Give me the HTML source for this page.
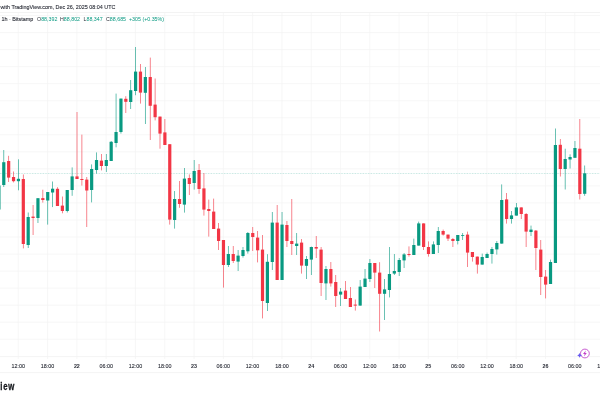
<!DOCTYPE html>
<html><head><meta charset="utf-8"><title>Chart</title>
<style>
html,body{margin:0;padding:0;background:#fff;}
body{width:600px;height:400px;overflow:hidden;position:relative;font-family:"Liberation Sans",sans-serif;}
svg{position:absolute;left:0;top:0;display:block;will-change:transform}
text{font-family:"Liberation Sans",sans-serif;}
</style></head><body>
<svg width="600" height="400" viewBox="0 0 600 400">
<rect width="600" height="400" fill="#ffffff"/>

<g stroke="#f3f3f3" stroke-width="0.7" fill="none">
<line x1="0" y1="15.50" x2="600" y2="15.50"/>
<line x1="0" y1="32.54" x2="600" y2="32.54"/>
<line x1="0" y1="49.58" x2="600" y2="49.58"/>
<line x1="0" y1="66.62" x2="600" y2="66.62"/>
<line x1="0" y1="83.66" x2="600" y2="83.66"/>
<line x1="0" y1="100.70" x2="600" y2="100.70"/>
<line x1="0" y1="117.74" x2="600" y2="117.74"/>
<line x1="0" y1="134.78" x2="600" y2="134.78"/>
<line x1="0" y1="151.82" x2="600" y2="151.82"/>
<line x1="0" y1="168.86" x2="600" y2="168.86"/>
<line x1="0" y1="185.90" x2="600" y2="185.90"/>
<line x1="0" y1="202.94" x2="600" y2="202.94"/>
<line x1="0" y1="219.98" x2="600" y2="219.98"/>
<line x1="0" y1="237.02" x2="600" y2="237.02"/>
<line x1="0" y1="254.06" x2="600" y2="254.06"/>
<line x1="0" y1="271.10" x2="600" y2="271.10"/>
<line x1="0" y1="288.14" x2="600" y2="288.14"/>
<line x1="0" y1="305.18" x2="600" y2="305.18"/>
<line x1="0" y1="322.22" x2="600" y2="322.22"/>
<line x1="0" y1="339.26" x2="600" y2="339.26"/>
<line x1="18.30" y1="12.5" x2="18.30" y2="359"/>
<line x1="47.59" y1="12.5" x2="47.59" y2="359"/>
<line x1="76.88" y1="12.5" x2="76.88" y2="359"/>
<line x1="106.17" y1="12.5" x2="106.17" y2="359"/>
<line x1="135.46" y1="12.5" x2="135.46" y2="359"/>
<line x1="164.75" y1="12.5" x2="164.75" y2="359"/>
<line x1="194.04" y1="12.5" x2="194.04" y2="359"/>
<line x1="223.33" y1="12.5" x2="223.33" y2="359"/>
<line x1="252.62" y1="12.5" x2="252.62" y2="359"/>
<line x1="281.91" y1="12.5" x2="281.91" y2="359"/>
<line x1="311.20" y1="12.5" x2="311.20" y2="359"/>
<line x1="340.49" y1="12.5" x2="340.49" y2="359"/>
<line x1="369.78" y1="12.5" x2="369.78" y2="359"/>
<line x1="399.07" y1="12.5" x2="399.07" y2="359"/>
<line x1="428.36" y1="12.5" x2="428.36" y2="359"/>
<line x1="457.65" y1="12.5" x2="457.65" y2="359"/>
<line x1="486.94" y1="12.5" x2="486.94" y2="359"/>
<line x1="516.23" y1="12.5" x2="516.23" y2="359"/>
<line x1="545.52" y1="12.5" x2="545.52" y2="359"/>
<line x1="574.81" y1="12.5" x2="574.81" y2="359"/>
<line x1="604.10" y1="12.5" x2="604.10" y2="359"/>
</g>
<g stroke="#f0f0f0" stroke-width="0.8">
<line x1="0" y1="12.5" x2="600" y2="12.5"/>
<line x1="0" y1="356.6" x2="600" y2="356.6"/>
<line x1="0" y1="372.6" x2="600" y2="372.6"/>
</g>
<line x1="0" y1="173.5" x2="600" y2="173.5" stroke="#089981" stroke-width="0.5" stroke-dasharray="0.8 0.8" opacity="0.5"/>
<g>
<rect x="-1.48" y="185.50" width="0.75" height="24.00" fill="#089981" opacity="0.8"/>
<rect x="-2.70" y="185.50" width="3.20" height="24.00" fill="#089981"/>
<rect x="3.41" y="150.00" width="0.75" height="37.00" fill="#089981" opacity="0.8"/>
<rect x="2.18" y="162.20" width="3.20" height="22.80" fill="#089981"/>
<rect x="8.29" y="155.80" width="0.75" height="26.20" fill="#f23645" opacity="0.8"/>
<rect x="7.06" y="161.00" width="3.20" height="16.60" fill="#f23645"/>
<rect x="13.17" y="171.50" width="0.75" height="10.90" fill="#f23645" opacity="0.8"/>
<rect x="11.95" y="177.00" width="3.20" height="4.20" fill="#f23645"/>
<rect x="18.05" y="159.30" width="0.75" height="31.00" fill="#089981" opacity="0.8"/>
<rect x="16.83" y="178.80" width="3.20" height="2.40" fill="#089981"/>
<rect x="22.93" y="174.50" width="0.75" height="73.90" fill="#f23645" opacity="0.8"/>
<rect x="21.71" y="179.00" width="3.20" height="65.00" fill="#f23645"/>
<rect x="27.82" y="212.50" width="0.75" height="35.50" fill="#089981" opacity="0.8"/>
<rect x="26.59" y="217.00" width="3.20" height="28.00" fill="#089981"/>
<rect x="32.70" y="205.00" width="0.75" height="30.00" fill="#f23645" opacity="0.8"/>
<rect x="31.47" y="216.60" width="3.20" height="1.40" fill="#f23645"/>
<rect x="37.58" y="198.20" width="0.75" height="24.80" fill="#089981" opacity="0.8"/>
<rect x="36.35" y="198.20" width="3.20" height="19.80" fill="#089981"/>
<rect x="42.46" y="189.70" width="0.75" height="12.90" fill="#f23645" opacity="0.8"/>
<rect x="41.24" y="198.10" width="3.20" height="1.90" fill="#f23645"/>
<rect x="47.34" y="192.00" width="0.75" height="32.60" fill="#089981" opacity="0.8"/>
<rect x="46.12" y="192.00" width="3.20" height="8.50" fill="#089981"/>
<rect x="52.22" y="181.50" width="0.75" height="25.60" fill="#089981" opacity="0.8"/>
<rect x="51.00" y="188.70" width="3.20" height="3.80" fill="#089981"/>
<rect x="57.11" y="187.20" width="0.75" height="18.80" fill="#f23645" opacity="0.8"/>
<rect x="55.88" y="188.80" width="3.20" height="17.20" fill="#f23645"/>
<rect x="61.99" y="196.50" width="0.75" height="16.80" fill="#f23645" opacity="0.8"/>
<rect x="60.76" y="205.60" width="3.20" height="5.40" fill="#f23645"/>
<rect x="66.87" y="190.00" width="0.75" height="22.50" fill="#089981" opacity="0.8"/>
<rect x="65.64" y="190.00" width="3.20" height="21.00" fill="#089981"/>
<rect x="71.75" y="167.40" width="0.75" height="28.40" fill="#089981" opacity="0.8"/>
<rect x="70.53" y="176.40" width="3.20" height="13.60" fill="#089981"/>
<rect x="76.63" y="112.00" width="0.75" height="67.00" fill="#f23645" opacity="0.8"/>
<rect x="75.41" y="176.40" width="3.20" height="2.60" fill="#f23645"/>
<rect x="81.51" y="134.60" width="0.75" height="51.00" fill="#f23645" opacity="0.8"/>
<rect x="80.29" y="179.00" width="3.20" height="1.00" fill="#f23645"/>
<rect x="86.40" y="177.00" width="0.75" height="50.00" fill="#f23645" opacity="0.8"/>
<rect x="85.17" y="179.60" width="3.20" height="10.90" fill="#f23645"/>
<rect x="91.28" y="164.40" width="0.75" height="38.00" fill="#089981" opacity="0.8"/>
<rect x="90.05" y="169.00" width="3.20" height="21.00" fill="#089981"/>
<rect x="96.16" y="152.40" width="0.75" height="21.20" fill="#089981" opacity="0.8"/>
<rect x="94.93" y="160.00" width="3.20" height="10.00" fill="#089981"/>
<rect x="101.04" y="154.00" width="0.75" height="16.40" fill="#f23645" opacity="0.8"/>
<rect x="99.82" y="160.60" width="3.20" height="5.40" fill="#f23645"/>
<rect x="105.92" y="154.00" width="0.75" height="18.00" fill="#089981" opacity="0.8"/>
<rect x="104.70" y="160.00" width="3.20" height="6.00" fill="#089981"/>
<rect x="110.80" y="141.00" width="0.75" height="20.00" fill="#089981" opacity="0.8"/>
<rect x="109.58" y="141.80" width="3.20" height="19.20" fill="#089981"/>
<rect x="115.69" y="93.60" width="0.75" height="53.70" fill="#089981" opacity="0.8"/>
<rect x="114.46" y="132.00" width="3.20" height="11.00" fill="#089981"/>
<rect x="120.57" y="98.60" width="0.75" height="35.00" fill="#089981" opacity="0.8"/>
<rect x="119.34" y="98.60" width="3.20" height="33.40" fill="#089981"/>
<rect x="125.45" y="96.20" width="0.75" height="16.80" fill="#f23645" opacity="0.8"/>
<rect x="124.22" y="98.80" width="3.20" height="3.00" fill="#f23645"/>
<rect x="130.33" y="80.00" width="0.75" height="29.00" fill="#089981" opacity="0.8"/>
<rect x="129.11" y="90.20" width="3.20" height="11.80" fill="#089981"/>
<rect x="135.21" y="47.00" width="0.75" height="48.20" fill="#089981" opacity="0.8"/>
<rect x="133.99" y="71.60" width="3.20" height="19.40" fill="#089981"/>
<rect x="140.09" y="64.00" width="0.75" height="39.60" fill="#f23645" opacity="0.8"/>
<rect x="138.87" y="71.60" width="3.20" height="21.00" fill="#f23645"/>
<rect x="144.98" y="67.00" width="0.75" height="57.00" fill="#089981" opacity="0.8"/>
<rect x="143.75" y="77.00" width="3.20" height="15.80" fill="#089981"/>
<rect x="149.86" y="57.60" width="0.75" height="82.40" fill="#f23645" opacity="0.8"/>
<rect x="148.63" y="77.00" width="3.20" height="28.80" fill="#f23645"/>
<rect x="154.74" y="78.50" width="0.75" height="41.90" fill="#f23645" opacity="0.8"/>
<rect x="153.51" y="104.60" width="3.20" height="12.60" fill="#f23645"/>
<rect x="159.62" y="116.60" width="0.75" height="32.10" fill="#f23645" opacity="0.8"/>
<rect x="158.40" y="116.60" width="3.20" height="17.00" fill="#f23645"/>
<rect x="164.50" y="119.00" width="0.75" height="26.00" fill="#f23645" opacity="0.8"/>
<rect x="163.28" y="132.40" width="3.20" height="12.60" fill="#f23645"/>
<rect x="169.38" y="144.20" width="0.75" height="80.40" fill="#f23645" opacity="0.8"/>
<rect x="168.16" y="144.20" width="3.20" height="75.40" fill="#f23645"/>
<rect x="174.27" y="191.00" width="0.75" height="37.60" fill="#089981" opacity="0.8"/>
<rect x="173.04" y="199.00" width="3.20" height="21.00" fill="#089981"/>
<rect x="179.15" y="181.00" width="0.75" height="26.80" fill="#f23645" opacity="0.8"/>
<rect x="177.92" y="199.00" width="3.20" height="5.00" fill="#f23645"/>
<rect x="184.03" y="168.00" width="0.75" height="44.60" fill="#089981" opacity="0.8"/>
<rect x="182.80" y="178.60" width="3.20" height="26.00" fill="#089981"/>
<rect x="188.91" y="174.40" width="0.75" height="20.60" fill="#f23645" opacity="0.8"/>
<rect x="187.69" y="178.00" width="3.20" height="6.00" fill="#f23645"/>
<rect x="193.79" y="160.00" width="0.75" height="29.60" fill="#089981" opacity="0.8"/>
<rect x="192.57" y="171.00" width="3.20" height="12.00" fill="#089981"/>
<rect x="198.67" y="164.00" width="0.75" height="29.80" fill="#f23645" opacity="0.8"/>
<rect x="197.45" y="170.00" width="3.20" height="19.00" fill="#f23645"/>
<rect x="203.56" y="173.00" width="0.75" height="42.60" fill="#f23645" opacity="0.8"/>
<rect x="202.33" y="188.40" width="3.20" height="21.20" fill="#f23645"/>
<rect x="208.44" y="199.60" width="0.75" height="37.00" fill="#f23645" opacity="0.8"/>
<rect x="207.21" y="209.00" width="3.20" height="2.00" fill="#f23645"/>
<rect x="213.32" y="198.60" width="0.75" height="30.40" fill="#f23645" opacity="0.8"/>
<rect x="212.09" y="211.60" width="3.20" height="17.40" fill="#f23645"/>
<rect x="218.20" y="223.00" width="0.75" height="27.00" fill="#f23645" opacity="0.8"/>
<rect x="216.98" y="228.60" width="3.20" height="12.40" fill="#f23645"/>
<rect x="223.08" y="240.00" width="0.75" height="47.60" fill="#f23645" opacity="0.8"/>
<rect x="221.86" y="240.00" width="3.20" height="25.00" fill="#f23645"/>
<rect x="227.96" y="246.00" width="0.75" height="21.00" fill="#089981" opacity="0.8"/>
<rect x="226.74" y="254.00" width="3.20" height="11.00" fill="#089981"/>
<rect x="232.85" y="246.00" width="0.75" height="17.00" fill="#f23645" opacity="0.8"/>
<rect x="231.62" y="254.00" width="3.20" height="7.00" fill="#f23645"/>
<rect x="237.73" y="250.00" width="0.75" height="21.00" fill="#089981" opacity="0.8"/>
<rect x="236.50" y="255.60" width="3.20" height="6.00" fill="#089981"/>
<rect x="242.61" y="247.00" width="0.75" height="10.60" fill="#089981" opacity="0.8"/>
<rect x="241.39" y="250.00" width="3.20" height="6.00" fill="#089981"/>
<rect x="247.49" y="232.00" width="0.75" height="21.60" fill="#089981" opacity="0.8"/>
<rect x="246.27" y="233.00" width="3.20" height="18.30" fill="#089981"/>
<rect x="252.37" y="227.00" width="0.75" height="24.00" fill="#f23645" opacity="0.8"/>
<rect x="251.15" y="233.00" width="3.20" height="4.00" fill="#f23645"/>
<rect x="257.26" y="231.00" width="0.75" height="31.40" fill="#f23645" opacity="0.8"/>
<rect x="256.03" y="237.60" width="3.20" height="12.70" fill="#f23645"/>
<rect x="262.14" y="235.00" width="0.75" height="83.40" fill="#f23645" opacity="0.8"/>
<rect x="260.91" y="249.60" width="3.20" height="51.40" fill="#f23645"/>
<rect x="267.02" y="254.20" width="0.75" height="56.80" fill="#089981" opacity="0.8"/>
<rect x="265.79" y="261.80" width="3.20" height="41.20" fill="#089981"/>
<rect x="271.90" y="212.00" width="0.75" height="58.00" fill="#089981" opacity="0.8"/>
<rect x="270.68" y="222.60" width="3.20" height="39.40" fill="#089981"/>
<rect x="276.78" y="205.00" width="0.75" height="75.00" fill="#f23645" opacity="0.8"/>
<rect x="275.56" y="222.60" width="3.20" height="57.40" fill="#f23645"/>
<rect x="281.66" y="212.00" width="0.75" height="68.00" fill="#089981" opacity="0.8"/>
<rect x="280.44" y="224.60" width="3.20" height="55.40" fill="#089981"/>
<rect x="286.55" y="221.00" width="0.75" height="26.00" fill="#f23645" opacity="0.8"/>
<rect x="285.32" y="225.00" width="3.20" height="16.00" fill="#f23645"/>
<rect x="291.43" y="199.00" width="0.75" height="56.00" fill="#f23645" opacity="0.8"/>
<rect x="290.20" y="241.00" width="3.20" height="3.00" fill="#f23645"/>
<rect x="296.31" y="233.00" width="0.75" height="22.00" fill="#089981" opacity="0.8"/>
<rect x="295.08" y="243.60" width="3.20" height="2.40" fill="#089981"/>
<rect x="301.19" y="239.00" width="0.75" height="34.60" fill="#f23645" opacity="0.8"/>
<rect x="299.97" y="242.60" width="3.20" height="23.00" fill="#f23645"/>
<rect x="306.07" y="256.00" width="0.75" height="23.00" fill="#089981" opacity="0.8"/>
<rect x="304.85" y="259.00" width="3.20" height="6.80" fill="#089981"/>
<rect x="310.95" y="246.60" width="0.75" height="28.40" fill="#089981" opacity="0.8"/>
<rect x="309.73" y="247.00" width="3.20" height="12.60" fill="#089981"/>
<rect x="315.84" y="236.00" width="0.75" height="22.00" fill="#f23645" opacity="0.8"/>
<rect x="314.61" y="247.00" width="3.20" height="1.60" fill="#f23645"/>
<rect x="320.72" y="247.00" width="0.75" height="49.00" fill="#f23645" opacity="0.8"/>
<rect x="319.49" y="249.60" width="3.20" height="33.40" fill="#f23645"/>
<rect x="325.60" y="266.00" width="0.75" height="34.00" fill="#089981" opacity="0.8"/>
<rect x="324.37" y="269.00" width="3.20" height="14.40" fill="#089981"/>
<rect x="330.48" y="262.00" width="0.75" height="24.60" fill="#f23645" opacity="0.8"/>
<rect x="329.26" y="269.00" width="3.20" height="14.40" fill="#f23645"/>
<rect x="335.36" y="275.00" width="0.75" height="32.00" fill="#f23645" opacity="0.8"/>
<rect x="334.14" y="282.00" width="3.20" height="14.00" fill="#f23645"/>
<rect x="340.24" y="288.00" width="0.75" height="18.00" fill="#089981" opacity="0.8"/>
<rect x="339.02" y="291.60" width="3.20" height="3.00" fill="#089981"/>
<rect x="345.13" y="281.00" width="0.75" height="18.00" fill="#f23645" opacity="0.8"/>
<rect x="343.90" y="290.60" width="3.20" height="8.40" fill="#f23645"/>
<rect x="350.01" y="287.00" width="0.75" height="20.00" fill="#f23645" opacity="0.8"/>
<rect x="348.78" y="298.00" width="3.20" height="9.00" fill="#f23645"/>
<rect x="354.89" y="299.50" width="0.75" height="11.10" fill="#f23645" opacity="0.8"/>
<rect x="353.66" y="304.60" width="3.20" height="1.00" fill="#f23645"/>
<rect x="359.77" y="280.00" width="0.75" height="25.60" fill="#089981" opacity="0.8"/>
<rect x="358.55" y="286.60" width="3.20" height="19.00" fill="#089981"/>
<rect x="364.65" y="269.00" width="0.75" height="18.00" fill="#089981" opacity="0.8"/>
<rect x="363.43" y="278.60" width="3.20" height="8.40" fill="#089981"/>
<rect x="369.53" y="259.00" width="0.75" height="23.00" fill="#089981" opacity="0.8"/>
<rect x="368.31" y="263.00" width="3.20" height="16.00" fill="#089981"/>
<rect x="374.42" y="263.00" width="0.75" height="25.00" fill="#f23645" opacity="0.8"/>
<rect x="373.19" y="263.00" width="3.20" height="9.60" fill="#f23645"/>
<rect x="379.30" y="262.20" width="0.75" height="69.30" fill="#f23645" opacity="0.8"/>
<rect x="378.07" y="272.60" width="3.20" height="21.20" fill="#f23645"/>
<rect x="384.18" y="279.00" width="0.75" height="41.00" fill="#089981" opacity="0.8"/>
<rect x="382.95" y="289.40" width="3.20" height="4.40" fill="#089981"/>
<rect x="389.06" y="247.00" width="0.75" height="50.40" fill="#089981" opacity="0.8"/>
<rect x="387.84" y="274.00" width="3.20" height="16.00" fill="#089981"/>
<rect x="393.94" y="254.00" width="0.75" height="21.00" fill="#089981" opacity="0.8"/>
<rect x="392.72" y="271.00" width="3.20" height="2.60" fill="#089981"/>
<rect x="398.82" y="258.00" width="0.75" height="18.00" fill="#089981" opacity="0.8"/>
<rect x="397.60" y="260.00" width="3.20" height="12.00" fill="#089981"/>
<rect x="403.71" y="253.00" width="0.75" height="15.00" fill="#089981" opacity="0.8"/>
<rect x="402.48" y="254.40" width="3.20" height="6.00" fill="#089981"/>
<rect x="408.59" y="246.40" width="0.75" height="10.20" fill="#f23645" opacity="0.8"/>
<rect x="407.36" y="254.00" width="3.20" height="1.00" fill="#f23645"/>
<rect x="413.47" y="238.60" width="0.75" height="16.40" fill="#089981" opacity="0.8"/>
<rect x="412.24" y="245.00" width="3.20" height="10.00" fill="#089981"/>
<rect x="418.35" y="221.60" width="0.75" height="24.00" fill="#089981" opacity="0.8"/>
<rect x="417.13" y="223.40" width="3.20" height="22.20" fill="#089981"/>
<rect x="423.23" y="223.40" width="0.75" height="26.60" fill="#f23645" opacity="0.8"/>
<rect x="422.01" y="223.40" width="3.20" height="23.60" fill="#f23645"/>
<rect x="428.11" y="241.40" width="0.75" height="15.20" fill="#f23645" opacity="0.8"/>
<rect x="426.89" y="247.00" width="3.20" height="7.00" fill="#f23645"/>
<rect x="433.00" y="241.40" width="0.75" height="12.60" fill="#089981" opacity="0.8"/>
<rect x="431.77" y="244.40" width="3.20" height="9.60" fill="#089981"/>
<rect x="437.88" y="227.00" width="0.75" height="26.00" fill="#089981" opacity="0.8"/>
<rect x="436.65" y="231.00" width="3.20" height="14.00" fill="#089981"/>
<rect x="442.76" y="229.60" width="0.75" height="6.00" fill="#f23645" opacity="0.8"/>
<rect x="441.53" y="231.00" width="3.20" height="3.60" fill="#f23645"/>
<rect x="447.64" y="234.60" width="0.75" height="6.40" fill="#f23645" opacity="0.8"/>
<rect x="446.42" y="234.60" width="3.20" height="4.00" fill="#f23645"/>
<rect x="452.52" y="238.00" width="0.75" height="9.00" fill="#f23645" opacity="0.8"/>
<rect x="451.30" y="239.00" width="3.20" height="2.00" fill="#f23645"/>
<rect x="457.40" y="235.00" width="0.75" height="9.40" fill="#089981" opacity="0.8"/>
<rect x="456.18" y="235.00" width="3.20" height="6.00" fill="#089981"/>
<rect x="462.29" y="233.00" width="0.75" height="7.00" fill="#089981" opacity="0.8"/>
<rect x="461.06" y="235.20" width="3.20" height="0.80" fill="#089981"/>
<rect x="467.17" y="231.60" width="0.75" height="35.40" fill="#f23645" opacity="0.8"/>
<rect x="465.94" y="234.60" width="3.20" height="18.00" fill="#f23645"/>
<rect x="472.05" y="252.00" width="0.75" height="9.60" fill="#f23645" opacity="0.8"/>
<rect x="470.82" y="252.00" width="3.20" height="5.00" fill="#f23645"/>
<rect x="476.93" y="256.60" width="0.75" height="17.00" fill="#f23645" opacity="0.8"/>
<rect x="475.71" y="256.60" width="3.20" height="8.00" fill="#f23645"/>
<rect x="481.81" y="253.60" width="0.75" height="11.00" fill="#089981" opacity="0.8"/>
<rect x="480.59" y="257.00" width="3.20" height="7.60" fill="#089981"/>
<rect x="486.69" y="252.60" width="0.75" height="5.40" fill="#089981" opacity="0.8"/>
<rect x="485.47" y="254.00" width="3.20" height="4.00" fill="#089981"/>
<rect x="491.58" y="247.00" width="0.75" height="16.60" fill="#089981" opacity="0.8"/>
<rect x="490.35" y="249.00" width="3.20" height="5.00" fill="#089981"/>
<rect x="496.46" y="241.00" width="0.75" height="13.60" fill="#089981" opacity="0.8"/>
<rect x="495.23" y="243.00" width="3.20" height="6.40" fill="#089981"/>
<rect x="501.34" y="184.40" width="0.75" height="59.20" fill="#089981" opacity="0.8"/>
<rect x="500.12" y="200.00" width="3.20" height="43.60" fill="#089981"/>
<rect x="506.22" y="193.00" width="0.75" height="30.60" fill="#f23645" opacity="0.8"/>
<rect x="505.00" y="199.40" width="3.20" height="19.60" fill="#f23645"/>
<rect x="511.10" y="211.00" width="0.75" height="12.60" fill="#089981" opacity="0.8"/>
<rect x="509.88" y="215.40" width="3.20" height="3.60" fill="#089981"/>
<rect x="515.99" y="203.00" width="0.75" height="12.60" fill="#089981" opacity="0.8"/>
<rect x="514.76" y="207.40" width="3.20" height="8.20" fill="#089981"/>
<rect x="520.87" y="207.40" width="0.75" height="11.60" fill="#f23645" opacity="0.8"/>
<rect x="519.64" y="207.40" width="3.20" height="6.60" fill="#f23645"/>
<rect x="525.75" y="213.00" width="0.75" height="34.00" fill="#f23645" opacity="0.8"/>
<rect x="524.52" y="214.00" width="3.20" height="17.60" fill="#f23645"/>
<rect x="530.63" y="225.60" width="0.75" height="10.40" fill="#089981" opacity="0.8"/>
<rect x="529.41" y="229.60" width="3.20" height="2.40" fill="#089981"/>
<rect x="535.51" y="230.00" width="0.75" height="40.00" fill="#f23645" opacity="0.8"/>
<rect x="534.29" y="230.60" width="3.20" height="17.40" fill="#f23645"/>
<rect x="540.39" y="240.00" width="0.75" height="55.00" fill="#f23645" opacity="0.8"/>
<rect x="539.17" y="249.60" width="3.20" height="27.40" fill="#f23645"/>
<rect x="545.28" y="270.00" width="0.75" height="28.40" fill="#f23645" opacity="0.8"/>
<rect x="544.05" y="276.60" width="3.20" height="8.00" fill="#f23645"/>
<rect x="550.16" y="259.60" width="0.75" height="24.40" fill="#089981" opacity="0.8"/>
<rect x="548.93" y="262.00" width="3.20" height="22.00" fill="#089981"/>
<rect x="555.04" y="128.50" width="0.75" height="134.50" fill="#089981" opacity="0.8"/>
<rect x="553.81" y="145.00" width="3.20" height="118.00" fill="#089981"/>
<rect x="559.92" y="139.00" width="0.75" height="37.50" fill="#f23645" opacity="0.8"/>
<rect x="558.70" y="144.80" width="3.20" height="24.20" fill="#f23645"/>
<rect x="564.80" y="148.70" width="0.75" height="40.80" fill="#089981" opacity="0.8"/>
<rect x="563.58" y="159.00" width="3.20" height="10.00" fill="#089981"/>
<rect x="569.68" y="154.30" width="0.75" height="14.20" fill="#089981" opacity="0.8"/>
<rect x="568.46" y="157.00" width="3.20" height="2.50" fill="#089981"/>
<rect x="574.57" y="141.00" width="0.75" height="16.80" fill="#089981" opacity="0.8"/>
<rect x="573.34" y="148.00" width="3.20" height="9.80" fill="#089981"/>
<rect x="579.45" y="119.00" width="0.75" height="80.50" fill="#f23645" opacity="0.8"/>
<rect x="578.22" y="148.70" width="3.20" height="45.30" fill="#f23645"/>
<rect x="584.33" y="165.50" width="0.75" height="30.30" fill="#089981" opacity="0.8"/>
<rect x="583.10" y="173.30" width="3.20" height="20.50" fill="#089981"/>
</g>
<text x="0.4" y="8.6" font-size="5.5" textLength="115" lengthAdjust="spacingAndGlyphs" fill="#2a2d37" stroke="#2a2d37" stroke-width="0.1">with TradingView.com, Dec 26, 2025 08:04 UTC</text>
<text y="21.0" font-size="5.3" fill="#2a2d37" xml:space="preserve"><tspan x="1.4" textLength="32" lengthAdjust="spacingAndGlyphs" stroke="#2a2d37" stroke-width="0.1">1h · Bitstamp</tspan><tspan x="37">O</tspan><tspan fill="#089981">88,392</tspan><tspan x="60">H</tspan><tspan fill="#089981">88,802</tspan><tspan x="83.5">L</tspan><tspan fill="#089981">88,347</tspan><tspan x="106">C</tspan><tspan fill="#089981">88,685</tspan><tspan x="129" fill="#089981">+305 (+0.35%)</tspan></text>
<g font-size="5.4" fill="#2a2d37" stroke="#2a2d37" stroke-width="0.1" text-anchor="middle">
<text x="18.30" y="367.9">12:00</text>
<text x="47.59" y="367.9">18:00</text>
<text x="76.88" y="367.9" font-weight="bold" stroke="none">22</text>
<text x="106.17" y="367.9">06:00</text>
<text x="135.46" y="367.9">12:00</text>
<text x="164.75" y="367.9">18:00</text>
<text x="194.04" y="367.9" font-weight="bold" stroke="none">23</text>
<text x="223.33" y="367.9">06:00</text>
<text x="252.62" y="367.9">12:00</text>
<text x="281.91" y="367.9">18:00</text>
<text x="311.20" y="367.9" font-weight="bold" stroke="none">24</text>
<text x="340.49" y="367.9">06:00</text>
<text x="369.78" y="367.9">12:00</text>
<text x="399.07" y="367.9">18:00</text>
<text x="428.36" y="367.9" font-weight="bold" stroke="none">25</text>
<text x="457.65" y="367.9">06:00</text>
<text x="486.94" y="367.9">12:00</text>
<text x="516.23" y="367.9">18:00</text>
<text x="545.52" y="367.9" font-weight="bold" stroke="none">26</text>
<text x="574.81" y="367.9">06:00</text>
<text x="604.10" y="367.9">12:00</text>
</g>
<text y="389.8" font-size="10.3" font-weight="bold" fill="#16181d" stroke="#16181d" stroke-width="0.3" transform="scale(0.76 1)"><tspan x="0.4">i</tspan><tspan x="4.3">e</tspan><tspan x="10.9">w</tspan></text>
<g transform="translate(584.9 353.5)">
<circle r="4.4" fill="#fff" stroke="#bd40c8" stroke-width="0.85"/>
<path d="M0.9 -2.9 L-1.9 0.5 L-0.2 0.5 L-0.9 2.9 L1.9 -0.6 L0.2 -0.6 Z" fill="#c23bc8"/>
<path d="M-5.3 -0.5 L-4.5 1.1 L-2.9 1.9 L-4.5 2.7 L-5.3 4.3 L-6.1 2.7 L-7.7 1.9 L-6.1 1.1 Z" fill="#6a5cf0"/>
</g>
</svg></body></html>
